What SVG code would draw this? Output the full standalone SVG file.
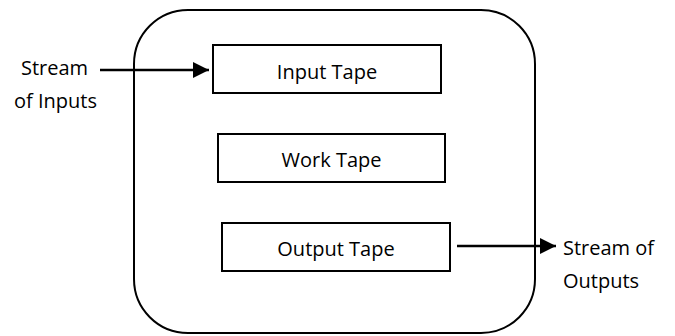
<svg xmlns="http://www.w3.org/2000/svg" width="675" height="336" viewBox="0 0 675 336">
  <defs>
    <style>
      .frame { fill: none; stroke: #000; stroke-width: 2; }
      .box { fill: #fff; stroke: #000; stroke-width: 2; }
      .lbl { font-family: "Open Sans", "Noto Sans", sans-serif; font-size: 20px; fill: #000; }
      .mid { text-anchor: middle; }
      .wire { stroke: #000; stroke-width: 2.5; fill: none; }
    </style>
    <marker id="head" markerWidth="17" markerHeight="17" refX="16" refY="8.5" orient="auto" markerUnits="userSpaceOnUse">
      <path d="M0,0.5 L16,8.5 L0,16.5 Z" fill="#000"/>
    </marker>
  </defs>

  <rect width="675" height="336" fill="#fff"/>

  <!-- machine outline -->
  <g id="machine">
    <rect class="frame" x="134" y="10" width="401" height="323" rx="54" ry="54"/>
  </g>

  <g id="input-tape">
    <rect class="box" x="213" y="45" width="228" height="48"/>
    <text class="lbl mid" x="327" y="79">Input Tape</text>
  </g>

  <g id="work-tape">
    <rect class="box" x="218" y="134" width="227" height="48"/>
    <text class="lbl mid" x="331.5" y="167">Work Tape</text>
  </g>

  <g id="output-tape">
    <rect class="box" x="222" y="223" width="228" height="48"/>
    <text class="lbl mid" x="336" y="256">Output Tape</text>
  </g>

  <g id="inputs-label">
    <text class="lbl" x="21" y="75">Stream</text>
    <text class="lbl" x="14" y="108">of Inputs</text>
  </g>

  <g id="outputs-label">
    <text class="lbl" x="563" y="255">Stream of</text>
    <text class="lbl" x="563" y="288">Outputs</text>
  </g>

  <!-- connectors -->
  <g id="connectors">
    <line class="wire" x1="100" y1="70" x2="209" y2="70" marker-end="url(#head)"/>
    <line class="wire" x1="457" y1="246" x2="556" y2="246" marker-end="url(#head)"/>
  </g>
</svg>
